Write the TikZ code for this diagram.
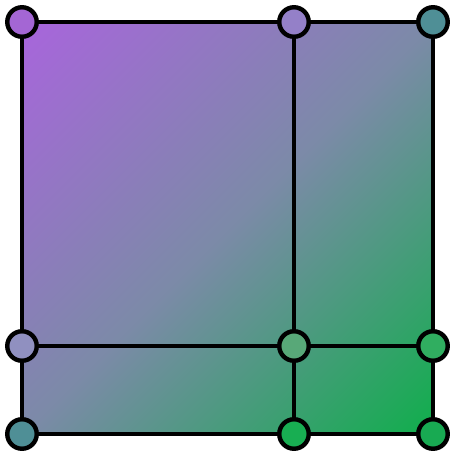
\documentclass[tikz,border=0pt]{standalone}
\definecolor{purp}{HTML}{A865DC}
\definecolor{grn}{HTML}{10AE4C}
\definecolor{midc}{HTML}{7C8AA8}
\definecolor{cA}{HTML}{A466D4}
\definecolor{cB}{HTML}{9480C8}
\definecolor{cC}{HTML}{4F8F96}
\definecolor{cD}{HTML}{9090C0}
\definecolor{cE}{HTML}{58A878}
\definecolor{cF}{HTML}{30AE60}
\definecolor{cG}{HTML}{18AE52}
\definecolor{cH}{HTML}{18AA52}
\pgfdeclareverticalshading{diagramp}{100bp}{color(0bp)=(grn); color(14.64bp)=(grn); color(50bp)=(midc); color(85.36bp)=(purp); color(100bp)=(purp)}
\tikzset{
  grid line/.style={line width=4.4pt, draw=black},
  vtx/.style={circle, draw=black, line width=4.4pt, minimum size=29.5pt, inner sep=0pt}
}
\begin{document}
\begin{tikzpicture}[x=1pt,y=-1pt]
\useasboundingbox (0,0) rectangle (450,451);
\shade[shading=diagramp, shading angle=45] (22,22) rectangle (433,434);
\node[vtx, fill=cA] (tl) at (22,22) {};
\node[vtx, fill=cB] (tm) at (294,22) {};
\node[vtx, fill=cC] (tr) at (433,22) {};
\node[vtx, fill=cD] (ml) at (22,346) {};
\node[vtx, fill=cE] (mm) at (294,346) {};
\node[vtx, fill=cF] (mr) at (433,346) {};
\node[vtx, fill=cC] (bl) at (22,434) {};
\node[vtx, fill=cG] (bm) at (294,434) {};
\node[vtx, fill=cH] (br) at (433,434) {};
\draw[grid line] (tl) -- (tm);
\draw[grid line] (tm) -- (tr);
\draw[grid line] (tr) -- (mr);
\draw[grid line] (mr) -- (br);
\draw[grid line] (br) -- (bm);
\draw[grid line] (bm) -- (bl);
\draw[grid line] (bl) -- (ml);
\draw[grid line] (ml) -- (tl);
\draw[grid line] (tm) -- (mm);
\draw[grid line] (mm) -- (bm);
\draw[grid line] (ml) -- (mm);
\draw[grid line] (mm) -- (mr);
\end{tikzpicture}
\end{document}
